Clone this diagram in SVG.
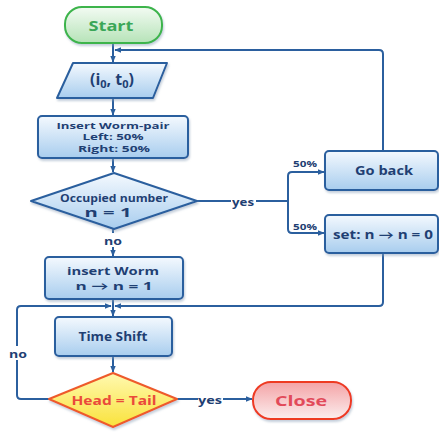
<svg xmlns="http://www.w3.org/2000/svg" width="439" height="435" viewBox="0 0 439 435">
<defs>
<linearGradient id="gBlue" x1="0" y1="0" x2="0" y2="1"><stop offset="0" stop-color="#f4f9fe"/><stop offset="1" stop-color="#a8cdee"/></linearGradient>
<linearGradient id="gGreen" x1="0" y1="0" x2="0" y2="1"><stop offset="0" stop-color="#f3fbf3"/><stop offset="1" stop-color="#b6e3b8"/></linearGradient>
<linearGradient id="gRed" x1="0" y1="0" x2="0" y2="1"><stop offset="0" stop-color="#f4a3a6"/><stop offset="1" stop-color="#fbeeee"/></linearGradient>
<linearGradient id="gYellow" x1="0" y1="0" x2="0" y2="1"><stop offset="0" stop-color="#fff9b0"/><stop offset="1" stop-color="#f9e23c"/></linearGradient>
<filter id="sh" x="-10%" y="-10%" width="130%" height="140%"><feDropShadow dx="1" dy="2" stdDeviation="1.2" flood-color="#8aa0b8" flood-opacity="0.5"/></filter>
<marker id="ah" viewBox="0 0 10 10" refX="9" refY="5" markerWidth="7" markerHeight="7" markerUnits="userSpaceOnUse" orient="auto"><path d="M0,1 L10,5 L0,9 z" fill="#2b5f9e"/></marker>
</defs>
<style>
.box{fill:url(#gBlue);stroke:#2b5f9e;stroke-width:2;filter:url(#sh)}
.t{font-family:"Open Sans","Lato",sans-serif;font-weight:bold;fill:#1f3f73;text-anchor:middle;dominant-baseline:central}
.c{fill:none;stroke:#2b5f9e;stroke-width:2}
.lbl{font-family:"Open Sans","Lato",sans-serif;font-weight:bold;fill:#1f3f73;text-anchor:middle;dominant-baseline:central}
</style>
<g id="connectors">
<path class="c" d="M113,43 V62" marker-end="url(#ah)"/>
<path class="c" d="M383,151 V54 Q383,50 379,50 H115" marker-end="url(#ah)"/>
<path class="c" d="M113,98 V115" marker-end="url(#ah)"/>
<path class="c" d="M113,158 V172" marker-end="url(#ah)"/>
<path class="c" d="M197,201 H231 M256,201 H288"/>
<path class="c" d="M288,201 V176 Q288,172 292,172 H324" marker-end="url(#ah)"/>
<path class="c" d="M288,201 V229 Q288,233 292,233 H324" marker-end="url(#ah)"/>
<path class="c" d="M113,229 V233 M113,247 V256" marker-end="url(#ah)"/>
<path class="c" d="M383,253 V302 Q383,306 379,306 H115" marker-end="url(#ah)"/>
<path class="c" d="M113,299 V316" marker-end="url(#ah)"/>
<path class="c" d="M49,399 H21 Q17,399 17,395 V360 M17,346 V310 Q17,306 21,306 H111" marker-end="url(#ah)"/>
<path class="c" d="M113,356 V372" marker-end="url(#ah)"/>
<path class="c" d="M177,399 H198 M223,399 H252" marker-end="url(#ah)"/>
<text class="lbl" x="243" y="201" font-size="11" textLength="22" lengthAdjust="spacingAndGlyphs">yes</text>
<text class="lbl" x="305" y="163" font-size="8" textLength="24" lengthAdjust="spacingAndGlyphs">50%</text>
<text class="lbl" x="305" y="226" font-size="8" textLength="24" lengthAdjust="spacingAndGlyphs">50%</text>
<text class="lbl" x="113" y="240" font-size="11" textLength="18" lengthAdjust="spacingAndGlyphs">no</text>
<text class="lbl" x="18" y="353" font-size="11" textLength="18" lengthAdjust="spacingAndGlyphs">no</text>
<text class="lbl" x="210" y="399" font-size="11" textLength="24" lengthAdjust="spacingAndGlyphs">yes</text>
</g>
<g id="start">
<rect x="65" y="7" width="97" height="36" rx="17" fill="url(#gGreen)" stroke="#3cb44b" stroke-width="2" filter="url(#sh)"/>
<text class="t" x="111" y="25" font-size="15" style="fill:#3aa757" textLength="45" lengthAdjust="spacingAndGlyphs">Start</text>
</g>
<g id="input">
<path d="M73,63 H167 L153,98 H57 Z" class="box" stroke-linejoin="round"/>
<text class="t" x="112" y="79" font-size="16">(i<tspan font-size="11" dy="4">0</tspan><tspan dy="-4">, t</tspan><tspan font-size="11" dy="4">0</tspan><tspan dy="-4">)</tspan></text>
</g>
<g id="insertPair">
<rect x="38" y="116" width="150" height="42" rx="4" class="box"/>
<text class="t" x="113" y="125" font-size="9.5" textLength="113" lengthAdjust="spacingAndGlyphs">Insert Worm-pair</text>
<text class="t" x="113" y="136.5" font-size="9.5" textLength="61" lengthAdjust="spacingAndGlyphs">Left: 50%</text>
<text class="t" x="114" y="148" font-size="9.5" textLength="72" lengthAdjust="spacingAndGlyphs">Right: 50%</text>
</g>
<g id="occupied">
<path d="M114,173 L197,201 L114,229 L31,201 Z" class="box" stroke-linejoin="round"/>
<text class="t" x="114" y="198" font-size="10" textLength="108" lengthAdjust="spacingAndGlyphs">Occupied number</text>
<text class="t" x="108" y="212" font-size="12" textLength="47" lengthAdjust="spacingAndGlyphs">n = 1</text>
</g>
<g id="goback">
<rect x="325" y="151" width="113" height="39" rx="4" class="box"/>
<text class="t" x="384" y="170" font-size="12" textLength="58" lengthAdjust="spacingAndGlyphs">Go back</text>
</g>
<g id="set">
<rect x="325" y="215" width="113" height="38" rx="4" class="box"/>
<text class="t" x="383" y="234" font-size="11.5" textLength="100" lengthAdjust="spacingAndGlyphs">set: n → n = 0</text>
</g>
<g id="insertWorm">
<rect x="45" y="257" width="138" height="42" rx="4" class="box"/>
<text class="t" x="113" y="270" font-size="11" textLength="92" lengthAdjust="spacingAndGlyphs">insert Worm</text>
<text class="t" x="114" y="285.5" font-size="11" textLength="77" lengthAdjust="spacingAndGlyphs">n → n = 1</text>
</g>
<g id="timeshift">
<rect x="55" y="317" width="117" height="39" rx="4" class="box"/>
<text class="t" x="113" y="336" font-size="11.5" textLength="69" lengthAdjust="spacingAndGlyphs">Time Shift</text>
</g>
<g id="headtail">
<path d="M113,373 L177,399 L113,427 L49,399 Z" fill="url(#gYellow)" stroke="#ee5a2a" stroke-width="2" stroke-linejoin="round" filter="url(#sh)"/>
<text class="t" x="114" y="400" font-size="13" style="fill:#ea4a3a" textLength="85" lengthAdjust="spacingAndGlyphs">Head = Tail</text>
</g>
<g id="close">
<rect x="253" y="382" width="98" height="37" rx="18" fill="url(#gRed)" stroke="#ee3a24" stroke-width="2" filter="url(#sh)"/>
<text class="t" x="301" y="400" font-size="15" style="fill:#e24a5a" textLength="52" lengthAdjust="spacingAndGlyphs">Close</text>
</g>
</svg>
